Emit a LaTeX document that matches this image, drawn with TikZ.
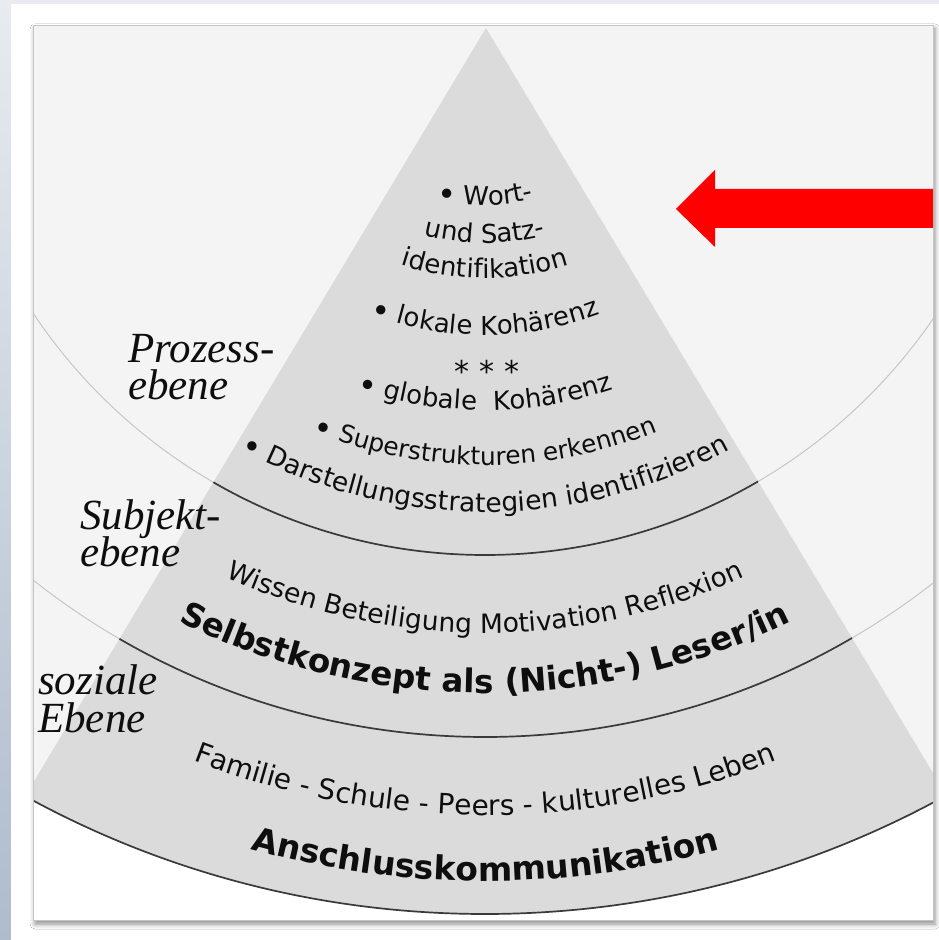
\documentclass[tikz,border=0pt]{standalone}
\usepackage{fontspec}
\setmainfont{DejaVu Sans}
\newfontfamily\levelfont{Liberation Serif}
\usepackage{tikz}
\usetikzlibrary{decorations.text}
\usetikzlibrary{shadows.blur}
\usetikzlibrary{positioning}

\definecolor{bgtop}{HTML}{E8EBEF}
\definecolor{bgbottom}{HTML}{AEBCCE}
\definecolor{panelgray}{HTML}{F4F4F4}
\definecolor{panelline}{HTML}{C4C4C4}
\definecolor{pyramidgray}{HTML}{DBDBDB}
\definecolor{arclight}{HTML}{C6C6C6}
\definecolor{arcdark}{HTML}{3A3A3A}
\definecolor{textblack}{HTML}{0E0E0E}
\definecolor{arrowred}{HTML}{FF0000}

\newcommand{\trireg}[1][26]{\fontsize{#1}{#1}\selectfont\color{textblack}}
\newcommand{\tribold}[1][32]{\fontsize{#1}{#1}\selectfont\bfseries\color{textblack}}
\newcommand{\bigdot}{{\fontsize{32}{32}\selectfont\raisebox{-4pt}{•}}}

% one line of text along an arc round the common centre
\newcommand{\arcline}[3]{%
  \path[decorate, decoration={text along path, text align=center, text={|#2|#3}}]
    (485,937) ++(205:#1) arc[start angle=205, end angle=335, radius=#1];}

\begin{document}
\begin{tikzpicture}[x=1pt, y=1pt]
  \tikzset{level/.style={inner sep=0pt, anchor=base west, text=textblack,
                         font=\levelfont\itshape\fontsize{43}{46}\selectfont},
           lightarc/.style={draw=arclight, line width=1pt},
           darkarc/.style={draw=arcdark, line width=1.7pt}}
  \useasboundingbox (0,0) rectangle (939,940);
  % backdrop and panel
  \shade[top color=bgtop, bottom color=bgbottom] (0,0) rectangle (939,940);
  \fill[white] (11,0) rectangle (939,936);
  \fill[panelgray, blur shadow={shadow xshift=2pt, shadow yshift=-4pt,
        shadow blur radius=5pt, shadow opacity=45}] (33,20) rectangle (933,915);
  \begin{scope}
    \clip (33,20) rectangle (933,915);
    \fill[white, even odd rule] (33,20) rectangle (933,915) (485,981) circle[radius=955];
    \begin{scope}
      \clip (485,981) circle[radius=955];
      \fill[pyramidgray] (486,912) -- (-114,-88) -- (1086,-88) -- cycle;
    \end{scope}
    \draw[lightarc] (485,928) circle[radius=543];
    \draw[lightarc] (485,932) circle[radius=729];
    \begin{scope}
      \clip (486,912) -- (-114,-88) -- (1086,-88) -- cycle;
      \draw[darkarc] (485,928) circle[radius=543];
      \draw[darkarc] (485,932) circle[radius=729];
    \end{scope}
    \draw[darkarc] (485,981) circle[radius=955];
  \end{scope}
  \draw[panelline, line width=0.8pt] (33,20) rectangle (933,915);
  % red arrow
  \fill[arrowred] (676,731) -- (715,770) -- (715,751) -- (933,751)
                  -- (933,712) -- (715,712) -- (715,693) -- cycle;
  % levels
  \node[level] (prozess) at (128,577) {Prozess-};
  \node[level] (prozessebene) at ([yshift=-37pt]prozess.base west) {ebene};
  \node[level] (subjekt) at (80,410) {Subjekt-};
  \node[level] (subjektebene) at ([yshift=-37pt]subjekt.base west) {ebene};
  \node[level] (sozial) at (38,245) {soziale};
  \node[level] (sozialebene) at ([yshift=-38pt]sozial.base west) {Ebene};
  % pyramid texts
  \arcline{202}{\trireg}{\bigdot{} Wort-}
  \arcline{240}{\trireg}{und Satz-}
  \arcline{275}{\trireg}{identifikation}
  \arcline{332}{\trireg}{\bigdot{} lokale Kohärenz}
  \node[anchor=base, inner sep=0pt, text=textblack, font=\fontsize{30}{32}\selectfont]
    (stars) at (487,557) {* * *};
  \arcline{407}{\trireg}{\bigdot{} globale {\ }Kohärenz}
  \arcline{462}{\trireg[24.8]}{\bigdot{} Superstrukturen erkennen}
  \arcline{509}{\trireg[26.5]}{\bigdot{} Darstellungsstrategien identifizieren}
  \arcline{630}{\trireg[26.6]}{Wissen Beteiligung Motivation Reflexion}
  \arcline{690}{\tribold[32.6]}{Selbstkonzept als (Nicht-) Leser/in}
  \arcline{812}{\trireg[28]}{Familie - Schule - Peers - kulturelles Leben}
  \arcline{878}{\tribold[33]}{Anschlusskommunikation}
\end{tikzpicture}
\end{document}
